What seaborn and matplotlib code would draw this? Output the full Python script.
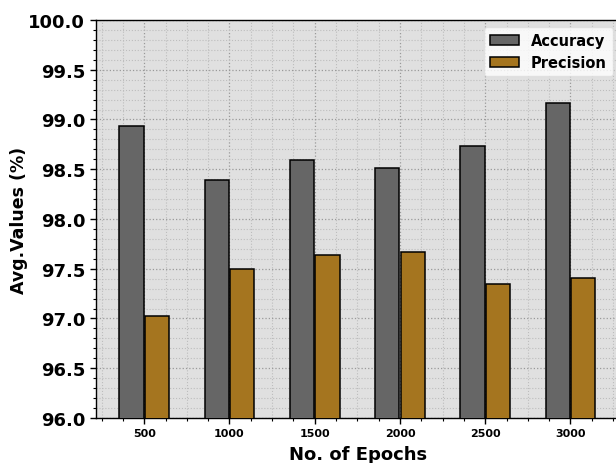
import numpy as np
import pandas as pd
import matplotlib
matplotlib.use("Agg")
import matplotlib.pyplot as plt
import seaborn as sns
from matplotlib.ticker import MultipleLocator, AutoMinorLocator

epochs = [500, 1000, 1500, 2000, 2500, 3000]
accuracy = [98.93, 98.39, 98.59, 98.51, 98.73, 99.17]
precision = [97.03, 97.50, 97.64, 97.67, 97.35, 97.41]
metrics = ["Accuracy", "Precision"]
colors = ["#666666", "#a5751f"]

df = pd.DataFrame({
    "epoch": epochs * 2,
    "value": accuracy + precision,
    "metric": [metrics[0]] * len(epochs) + [metrics[1]] * len(epochs),
})

sns.set_style("white")
plt.rcParams["font.family"] = ["DejaVu Sans"]
plt.rcParams["text.color"] = "black"
plt.rcParams["axes.labelcolor"] = "black"
plt.rcParams["xtick.color"] = "black"
plt.rcParams["ytick.color"] = "black"

fig = plt.figure(figsize=(6.16, 4.64), dpi=100)
ax = fig.add_axes([0.1553, 0.097, 0.851, 0.8578])
ax.set_facecolor("#e0e0e0")

sns.barplot(data=df, x="epoch", y="value", hue="metric", native_scale=True,
            palette=colors, saturation=1, width=0.6, gap=0.05, edgecolor="black",
            linewidth=1.1, ax=ax, zorder=3)

ax.set_ylim(96, 100)
ax.set_xlim(215, 3290)
ax.xaxis.set_major_locator(MultipleLocator(500))
ax.xaxis.set_minor_locator(AutoMinorLocator(4))
ax.yaxis.set_major_locator(MultipleLocator(0.5))
ax.yaxis.set_minor_locator(AutoMinorLocator(5))
ax.set_axisbelow(True)
ax.grid(which="major", linestyle=":", color="#999999", linewidth=0.9)
ax.grid(which="minor", linestyle=":", color="#bdbdbd", linewidth=0.8)

ax.tick_params(axis="both", which="major", direction="out", length=4, width=1, colors="black")
ax.tick_params(axis="both", which="minor", direction="out", length=2.5, width=0.8, colors="black")
ax.tick_params(axis="x", which="both", bottom=True)
ax.tick_params(axis="y", which="both", left=True)
ax.set_xticks(epochs)
ax.set_xticklabels([str(e) for e in epochs], fontsize=8, fontweight="bold")
ax.set_yticks(np.arange(96, 100.01, 0.5))
ax.set_yticklabels([f"{v:.1f}" for v in np.arange(96, 100.01, 0.5)], fontsize=13, fontweight="bold")

for s in ax.spines.values():
    s.set_color("black")
    s.set_linewidth(1)

ax.set_xlabel("No. of Epochs", fontsize=13, fontweight="bold", labelpad=5)
ax.set_ylabel("Avg.Values (%)", fontsize=12.5, fontweight="bold", labelpad=0)

leg = ax.legend(loc="upper right", prop={"weight": "bold", "size": 10.5},
                frameon=True, framealpha=0.8, edgecolor="#dddddd", fancybox=True)
leg.set_title(None)
for t in leg.get_texts():
    t.set_color("black")

fig.savefig("out.png", dpi=100)
